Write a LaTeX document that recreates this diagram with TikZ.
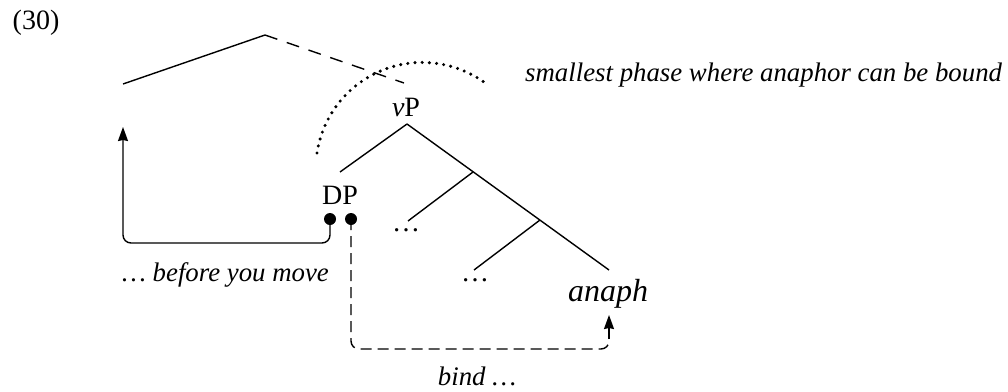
\documentclass[tikz,border=0pt]{standalone}
\usepackage{fontspec}
\setmainfont{Liberation Serif}
\usetikzlibrary{arrows.meta}
\begin{document}
\begin{tikzpicture}[x=1pt,y=-1pt,
  lbl/.style={inner sep=0pt,font=\fontsize{28}{32}\selectfont},
  ital/.style={inner sep=0pt,font=\fontsize{26.8}{30}\selectfont\itshape},
  branch/.style={line width=1.4pt},
  dotc/.style={circle,fill=black,inner sep=0pt,minimum size=12pt},
  arr/.style={-{Stealth[length=14pt,width=10pt,inset=1pt]},line width=1.4pt},
  longdash/.style={line width=1.4pt,dash pattern=on 13pt off 10pt},
  shortdash/.style={line width=1.4pt,dash pattern=on 11pt off 6pt},
  dotline/.style={line width=3.4pt,line cap=round,dash pattern=on 0pt off 7.2pt}]
\useasboundingbox (0,0) rectangle (1008,391);
\node[lbl] (num) at (36,23) {(30)};
% upper structure
\coordinate (ul) at (123,84);
\coordinate (top) at (265,35);
\coordinate (ur) at (404,83);
\draw[branch] (ul) -- (top);
\draw[longdash] (top) -- (ur);
% phase arc
\draw[dotline] (317,153) arc[start angle=171.4,end angle=53.8,radius=106.5pt];
\node[ital,anchor=west] (phase) at (525,75) {smallest phase where anaphor can be bound};
% tree
\node[lbl] (vP) at (406,107) {\textit{v}P};
\coordinate (vPb) at (407,124);
\coordinate (dpt) at (340,172);
\coordinate (n1) at (473,172);
\coordinate (n2) at (540,220);
\coordinate (anapht) at (609,270);
\coordinate (l1) at (408,221);
\coordinate (l2) at (474,270);
\draw[branch] (vPb) -- (dpt);
\draw[branch] (vPb) -- (anapht);
\draw[branch] (n1) -- (l1);
\draw[branch] (n2) -- (l2);
\node[lbl] (DP) at (340,195) {DP};
\node[lbl] (e1) at (406,230) {\ldots};
\node[lbl] (e2) at (475,280) {\ldots};
\node[inner sep=0pt,font=\fontsize{32}{36}\selectfont\itshape] (anaph) at (608,294) {anaph};
% dots
\node[dotc] (d1) at (330,219) {};
\node[dotc] (d2) at (351,219) {};
% movement path
\coordinate (mv1) at (330,243);
\coordinate (mv2) at (123,243);
\coordinate (mvtip) at (123,127);
\draw[arr,rounded corners=8pt] (d1.center) -- (mv1) -- (mv2) -- (mvtip);
\node[ital,anchor=west] (before) at (122,275) {\ldots\ before you move};
% binding path
\coordinate (b1) at (351,349);
\coordinate (b2) at (609,349);
\coordinate (bj) at (609,339);
\coordinate (btip) at (609,315);
\draw[shortdash,rounded corners=8pt] (d2.center) -- (b1) -- (b2) -- (bj);
\draw[arr] (bj) -- (btip);
\node[ital] (bind) at (477,376) {bind \ldots};
\end{tikzpicture}
\end{document}
